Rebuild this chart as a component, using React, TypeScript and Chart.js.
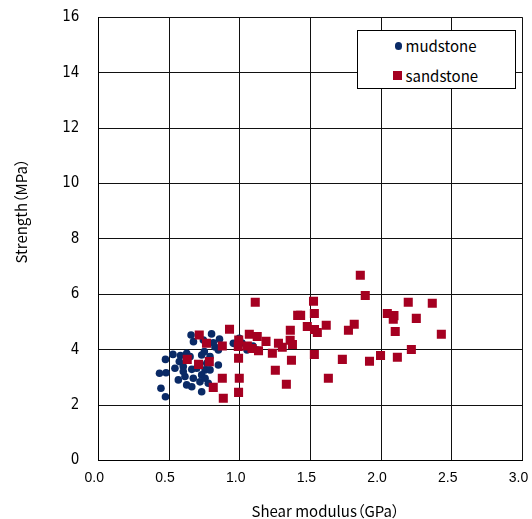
import React, { useEffect, useRef } from "react";
import { Chart, registerables } from "chart.js";

Chart.register(...registerables);

// ---- data ----
const seriesNames = ["mudstone", "sandstone"];

const mudstoneX = [
  0.433, 0.479, 0.443, 0.475, 0.475, 0.528, 0.581, 0.625, 0.656, 0.673,
  0.743, 0.801, 0.857, 0.825, 0.849, 0.75, 0.649, 0.731, 0.79, 0.573,
  0.542, 0.601, 0.661, 0.767, 0.849, 0.755, 0.79, 0.566, 0.613, 0.672,
  0.731, 0.778, 0.625, 0.661, 0.719, 0.731, 0.755, 0.601, 0.955, 0.997,
  1.016, 1.052, 1.094, 1.122, 0.696, 0.813,
];
const mudstoneY = [
  3.15, 3.17, 2.61, 2.3, 3.65, 3.83, 3.79, 3.87, 4.53, 4.29,
  4.35, 4.57, 4.38, 4.1, 3.99, 3.93, 3.75, 3.81, 3.75, 3.57,
  3.33, 3.39, 3.29, 3.51, 3.45, 3.27, 3.27, 2.91, 3.03, 2.97,
  3.09, 2.79, 2.73, 2.66, 2.84, 2.48, 2.97, 3.21, 4.23, 4.41,
  4.24, 3.99, 4.13, 3.99, 3.33, 4.25,
];

const sandstoneX = [
  1.853, 1.888, 2.192, 2.362, 1.522, 1.11, 2.044, 2.091, 2.086, 2.249,
  2.1, 2.426, 2.214, 2.115, 1.996, 1.918, 1.528, 1.41, 1.431, 1.612,
  1.81, 1.769, 1.529, 1.549, 1.478, 1.358, 1.528, 1.726, 1.627, 1.068,
  1.124, 1.357, 1.373, 1.186, 1.274, 1.301, 1.087, 1.133, 1.231, 1.366,
  1.252, 1.33, 0.928, 0.714, 0.765, 0.877, 0.993, 0.99, 1.054, 0.992,
  0.629, 0.709, 0.785, 0.877, 0.997, 0.813, 0.992, 0.884,
];
const sandstoneY = [
  6.69, 5.96, 5.71, 5.68, 5.75, 5.71, 5.31, 5.23, 5.1, 5.13,
  4.66, 4.56, 4.01, 3.73, 3.79, 3.58, 5.31, 5.24, 5.24, 4.88,
  4.92, 4.7, 4.73, 4.62, 4.84, 4.7, 3.83, 3.65, 2.97, 4.56,
  4.48, 4.34, 4.19, 4.3, 4.23, 4.09, 4.04, 3.96, 3.87, 3.62,
  3.26, 2.75, 4.74, 4.53, 4.23, 4.13, 4.35, 4.12, 4.13, 3.69,
  3.65, 3.47, 3.57, 2.97, 2.97, 2.64, 2.46, 2.25,
];

const xAxis = { min: 0, max: 3, step: 0.5 };
const yAxis = { min: 0, max: 16, step: 2 };
const xTitle = "Shear modulus（GPa）";
const yTitle = "Strength（MPa）";

const MUD_COLOR = "#0a2a66";
const SAND_COLOR = "#a50021";
const TEXT_FONT = "'Noto Sans CJK JP', 'Noto Sans', sans-serif";
const TICK_FONT = "'Liberation Sans Narrow', 'DejaVu Sans Condensed', 'Liberation Sans', sans-serif";

const toPoints = (xs: number[], ys: number[]) => xs.map((x, i) => ({ x, y: ys[i] }));

export default function App() {
  const canvasRef = useRef<HTMLCanvasElement | null>(null);

  useEffect(() => {
    const canvas = canvasRef.current;
    if (!canvas) return;
    const chart = new Chart(canvas, {
      type: "scatter",
      data: {
        datasets: [
          {
            label: seriesNames[1],
            data: toPoints(sandstoneX, sandstoneY),
            pointStyle: "rect",
            pointRadius: 6.4,
            pointHoverRadius: 6.4,
            backgroundColor: SAND_COLOR,
            borderColor: SAND_COLOR,
            borderWidth: 0,
            order: 0,
          },
          {
            label: seriesNames[0],
            data: toPoints(mudstoneX, mudstoneY),
            pointStyle: "circle",
            pointRadius: 3.8,
            pointHoverRadius: 3.8,
            backgroundColor: MUD_COLOR,
            borderColor: MUD_COLOR,
            borderWidth: 0,
            order: 1,
          },
        ],
      },
      options: {
        responsive: false,
        animation: false,
        devicePixelRatio: 1,
        layout: { padding: { left: 0, top: 17.3, right: 9.5, bottom: 0 } },
        plugins: {
          legend: { display: false },
          tooltip: { enabled: false },
          title: { display: false },
        },
        scales: {
          x: {
            type: "linear",
            min: xAxis.min,
            max: xAxis.max,
            ticks: {
              stepSize: xAxis.step,
              padding: 9,
              labelOffset: -4,
              color: "#000",
              font: { family: "'Liberation Sans', sans-serif", size: 14 },
              callback: (v: any) => Number(v).toFixed(1),
            },
            grid: { color: "#111", lineWidth: 1, drawTicks: false },
            border: { color: "#000", width: 1 },
            afterFit: (s: any) => {
              s.height = 58.5;
              s.paddingLeft = 0;
              s.paddingRight = 0;
            },
          },
          y: {
            type: "linear",
            min: yAxis.min,
            max: yAxis.max,
            ticks: {
              stepSize: yAxis.step,
              padding: 19,
              color: "#000",
              font: { family: TICK_FONT, size: 15 },
            },
            grid: { color: "#111", lineWidth: 1, drawTicks: false },
            border: { color: "#000", width: 1 },
            afterFit: (s: any) => {
              s.width = 98.3;
              s.paddingTop = 0;
              s.paddingBottom = 0;
            },
          },
        },
      },
    } as any);
    return () => chart.destroy();
  }, []);

  const legendText: React.CSSProperties = {
    position: "absolute",
    left: 405.5,
    fontFamily: TEXT_FONT,
    fontSize: 15,
    lineHeight: "20px",
    color: "#000",
    whiteSpace: "nowrap",
  };

  const titleStyle: React.CSSProperties = {
    position: "absolute",
    width: 200,
    height: 20,
    textAlign: "center",
    fontFamily: TEXT_FONT,
    fontSize: 15,
    lineHeight: "20px",
    color: "#000",
    whiteSpace: "nowrap",
    fontFeatureSettings: "'palt' 1",
  };

  return (
    <div style={{ position: "absolute", left: 0, top: 0, width: 532, height: 519, background: "#fff", overflow: "hidden" }}>
      <canvas ref={canvasRef} width={532} height={519} style={{ display: "block", width: 532, height: 519 }} />
      {/* legend */}
      <div
        style={{
          position: "absolute",
          left: 357,
          top: 30,
          width: 157,
          height: 57,
          border: "1px solid #000",
          background: "#fff",
        }}
      />
      <div style={{ position: "absolute", left: 394.5, top: 42, width: 7.8, height: 7.8, borderRadius: "50%", background: MUD_COLOR }} />
      <div style={{ ...legendText, top: 36 }}>{seriesNames[0]}</div>
      <div style={{ position: "absolute", left: 393, top: 71, width: 9.3, height: 9.3, background: SAND_COLOR }} />
      <div style={{ ...legendText, top: 66 }}>{seriesNames[1]}</div>
      {/* axis titles */}
      <div style={{ ...titleStyle, left: 225.5, top: 501 }}>{xTitle}</div>
      <div style={{ ...titleStyle, left: 21 - 100, top: 211 - 10, transform: "rotate(-90deg)" }}>{yTitle}</div>
    </div>
  );
}
